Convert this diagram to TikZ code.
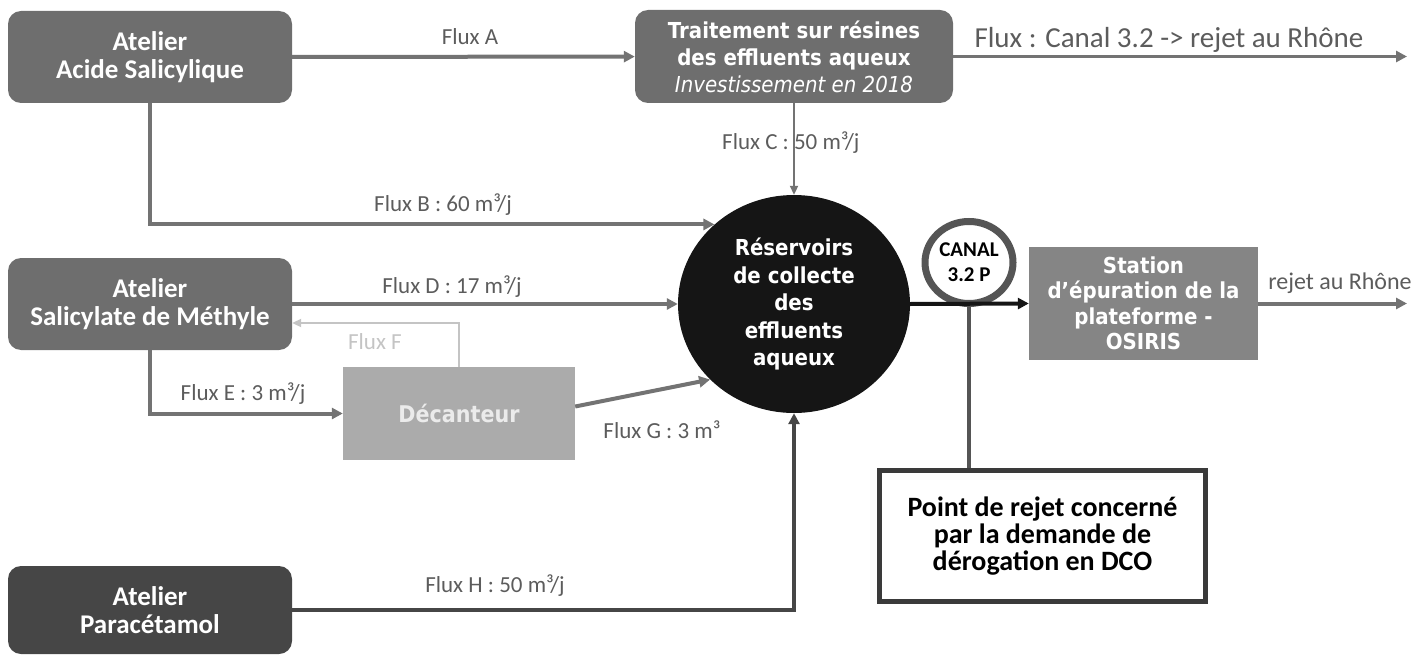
\documentclass[tikz,border=0pt]{standalone}
\usepackage{fontspec}
\setmainfont{Carlito}
\newfontfamily\wide[FakeStretch=0.9]{DejaVu Sans}
\usetikzlibrary{shapes.geometric,arrows.meta,calc}

\definecolor{midgray}{HTML}{6E6E6E}
\definecolor{darkbox}{HTML}{464646}
\definecolor{lightbox}{HTML}{ABABAB}
\definecolor{stationgray}{HTML}{858585}
\definecolor{arrowgray}{HTML}{737373}
\definecolor{labelgray}{HTML}{5C5C5C}
\definecolor{palegray}{HTML}{C4C4C4}
\definecolor{ringgray}{HTML}{555555}
\definecolor{nearblack}{HTML}{151515}
\definecolor{framegray}{HTML}{3A3A3A}

\begin{document}
\begin{tikzpicture}[x=1pt,y=-1pt,
  atelier/.style={rounded corners=13pt, fill=#1, text=white, align=center,
    inner sep=0pt, minimum width=284pt, minimum height=92pt,
    font=\fontsize{27}{28}\selectfont\bfseries},
  flux/.style={draw=arrowgray, line width=4pt, -{Triangle[length=11pt,width=11pt]}},
  thinflux/.style={draw=#1, line width=2pt, -{Triangle[length=9pt,width=8pt]}},
  lbl/.style={text=labelgray, inner sep=0pt, font=\fontsize{23}{24}\selectfont},
]
\useasboundingbox (0,0) rectangle (1426,655);

% workshops
\node[atelier=midgray] (acide) at (150,57) {Atelier\\Acide Salicylique};
\node[atelier=midgray] (salic) at (150,304) {Atelier\\Salicylate de Méthyle};
\node[atelier=darkbox, minimum height=88pt] (para) at (150,610) {Atelier\\Paracétamol};

% resin treatment
\node[rounded corners=13pt, fill=midgray, text=white, align=center, inner sep=0pt,
  minimum width=318pt, minimum height=93pt,
  font=\wide\fontsize{22}{27}\selectfont] (trait) at (794,56.5)
  {\bfseries Traitement sur résines\\\bfseries des effluents aqueux\\\itshape Investissement en 2018};

% settling tank
\node[fill=lightbox, text=white!92!black, inner sep=0pt, minimum width=232pt,
  minimum height=93pt, font=\wide\bfseries\fontsize{23}{25}\selectfont] (dec) at (459,413.5) {Décanteur};

% collection tanks
\node[ellipse, fill=nearblack, text=white, align=center, inner sep=0pt,
  minimum width=232pt, minimum height=218pt,
  font=\wide\bfseries\fontsize{22}{27.5}\selectfont] (resv) at (794,304)
  {Réservoirs\\de collecte\\des\\effluents\\aqueux};

% treatment plant
\node[fill=stationgray, text=white, align=center, inner sep=0pt,
  minimum width=229pt, minimum height=113pt,
  font=\wide\bfseries\fontsize{22}{25.5}\selectfont] (station) at (1143.5,303.5)
  {Station\\d’épuration de la\\plateforme -\\OSIRIS};

% discharge point note
\node[draw=framegray, line width=5pt, fill=white, align=center, inner sep=0pt,
  minimum width=326pt, minimum height=131pt,
  font=\bfseries\fontsize{28}{27}\selectfont] (point) at (1042.5,536)
  {Point de rejet concerné\\par la demande de\\dérogation en DCO};

\coordinate (rhoneA) at (1407,56.5);
\coordinate (rhoneB) at (1407,303.5);

% flows
\draw[flux] (acide) -- (trait);
\draw[flux, line width=3pt] (trait.east) -- (rhoneA);
\draw[thinflux=arrowgray] (trait.south) -- (resv.north);
\draw[flux] (acide.south) |- (resv.135);
\draw[flux] (salic.east) -- (resv.west);
\draw[flux] (salic.south) |- (dec.west);
\draw[thinflux=palegray] (dec.north) |- ($(salic.east)+(0,19)$);
\draw[flux] ($(dec.east)+(0,-7)$) -- (resv.222);
\draw[flux, draw=darkbox] (para.east) -| (resv.south);
\draw[flux] (station.east) -- (rhoneB);

% measurement point on the outlet
\node[ellipse, draw=ringgray, line width=7pt, fill=white, align=center, inner sep=0pt,
  minimum width=88pt, minimum height=82pt,
  font=\bfseries\fontsize{21}{25}\selectfont] (canal) at (969,262.5) {CANAL\\3.2 P};
\draw[draw=ringgray, line width=4pt] (canal.south) -- (canal.south |- point.north);
\draw[draw=nearblack, line width=4pt, -{Triangle[length=11pt,width=11pt]}] (resv.east) -- (station.west);

% flow labels
\node[lbl] (lA) at (470,37) {Flux A};
\node[lbl] (lB) at (443,205) {Flux B : 60 m³/j};
\node[lbl, anchor=west] (lC) at (722,143) {Flux C : 50 m³/j};
\node[lbl] (lD) at (452,287) {Flux D : 17 m³/j};
\node[lbl, text=palegray] (lF) at (375,342) {Flux F};
\node[lbl] (lE) at (243,394) {Flux E : 3 m³/j};
\node[lbl] (lG) at (662,430) {Flux G : 3 m³};
\node[lbl] (lH) at (495,586) {Flux H : 50 m³/j};
\node[lbl, font=\fontsize{29}{30}\selectfont] (lR1) at (1169,40) {Flux : Canal 3.2 -> rejet au Rhône};
\node[lbl, font=\fontsize{24}{26}\selectfont] (lR2) at (1340,283) {rejet au Rhône};
\end{tikzpicture}
\end{document}
